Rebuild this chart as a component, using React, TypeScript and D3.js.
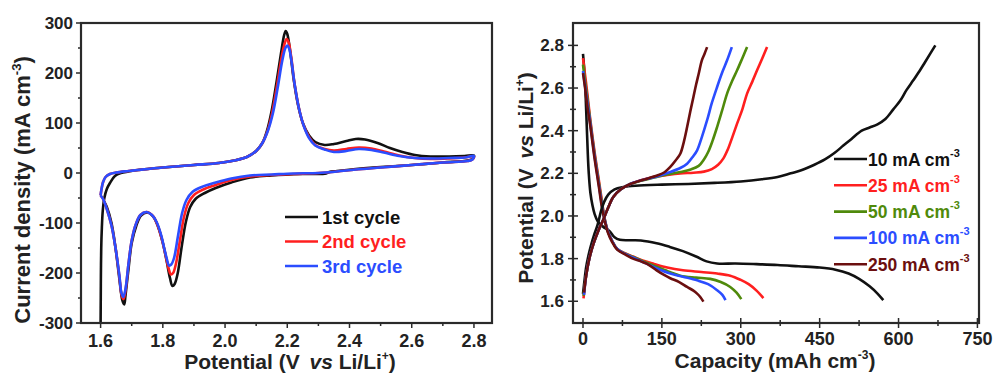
import React from 'react';
import * as d3 from 'd3';

type P = [number, number];

// ---------- Left panel: cyclic voltammetry ----------
const cvNames = ['1st cycle', '2nd cycle', '3rd cycle'];
const cvColors = ['#111111', '#ff1f1f', '#2b4dff'];

// [potential (V), current density (mA cm^-3)]
const cvCycle1: P[] = [
  [1.600, -300], [1.6005, -250], [1.601, -200], [1.602, -150], [1.604, -110], [1.607, -75], [1.612, -50],
  [1.620, -32], [1.630, -20], [1.646, -6], [1.665, 0], [1.69, 3], [1.72, 6], [1.80, 11], [1.90, 16],
  [1.98, 20], [2.03, 25], [2.07, 32], [2.10, 44], [2.12, 60], [2.135, 85], [2.15, 125], [2.165, 180],
  [2.18, 240], [2.19, 276], [2.195, 284], [2.20, 278], [2.21, 240], [2.22, 190], [2.235, 135], [2.25, 100],
  [2.27, 75], [2.29, 62], [2.32, 56], [2.35, 58], [2.39, 64], [2.42, 68], [2.45, 67], [2.49, 60], [2.53, 50],
  [2.57, 42], [2.61, 36], [2.66, 33], [2.72, 33], [2.77, 34], [2.80, 35],
  [2.795, 28], [2.78, 25], [2.70, 21], [2.60, 16], [2.50, 12], [2.42, 8], [2.36, 4], [2.335, 2], [2.325, -1],
  [2.25, -2], [2.15, -5], [2.08, -9], [2.02, -19], [1.97, -30], [1.935, -40], [1.905, -52], [1.888, -68],
  [1.874, -98], [1.86, -150], [1.848, -200], [1.838, -222], [1.831, -226], [1.823, -210], [1.812, -175],
  [1.80, -140], [1.785, -108], [1.77, -88], [1.75, -79], [1.73, -85], [1.715, -105], [1.70, -140], [1.69, -190],
  [1.68, -245], [1.676, -263], [1.67, -255], [1.66, -210], [1.648, -150], [1.635, -100], [1.62, -68], [1.61, -55]
];
const cvCycle2: P[] = [
  [1.600, -45], [1.603, -32], [1.608, -18], [1.616, -8], [1.63, -2], [1.65, 1], [1.69, 4], [1.72, 6],
  [1.80, 11], [1.90, 16], [1.98, 20], [2.03, 25], [2.07, 32], [2.10, 44], [2.12, 60], [2.137, 85],
  [2.152, 122], [2.167, 175], [2.182, 232], [2.192, 260], [2.198, 268], [2.204, 262], [2.213, 230],
  [2.223, 180], [2.238, 128], [2.252, 96], [2.27, 72], [2.29, 56], [2.32, 48], [2.35, 45], [2.39, 48],
  [2.43, 51], [2.47, 49], [2.51, 43], [2.56, 35], [2.61, 30], [2.66, 28], [2.72, 29], [2.77, 31], [2.80, 33],
  [2.795, 27], [2.78, 24], [2.70, 21], [2.60, 16], [2.50, 11], [2.42, 7], [2.36, 3], [2.30, 0], [2.22, -2],
  [2.15, -4], [2.08, -7], [2.02, -14], [1.97, -24], [1.93, -33], [1.90, -44], [1.882, -60], [1.868, -88],
  [1.855, -135], [1.842, -182], [1.833, -200], [1.826, -203], [1.819, -192], [1.81, -168], [1.798, -135],
  [1.783, -104], [1.768, -86], [1.748, -78], [1.728, -84], [1.713, -103], [1.70, -135], [1.69, -180],
  [1.68, -235], [1.674, -252], [1.668, -245], [1.66, -205], [1.648, -150], [1.635, -105], [1.62, -72],
  [1.608, -52], [1.600, -45]
];
const cvCycle3: P[] = [
  [1.600, -45], [1.603, -32], [1.608, -18], [1.616, -8], [1.63, -2], [1.65, 1], [1.69, 4], [1.72, 6],
  [1.80, 11], [1.90, 16], [1.98, 20], [2.03, 25], [2.07, 32], [2.10, 44], [2.12, 60], [2.138, 85],
  [2.154, 120], [2.169, 170], [2.184, 225], [2.194, 250], [2.2, 255], [2.206, 249], [2.214, 222],
  [2.224, 176], [2.239, 125], [2.253, 94], [2.27, 70], [2.29, 55], [2.32, 47], [2.35, 42], [2.39, 44],
  [2.43, 48], [2.47, 46], [2.51, 41], [2.56, 34], [2.61, 30], [2.66, 29], [2.72, 30], [2.77, 31], [2.80, 34],
  [2.795, 27], [2.78, 24], [2.70, 21], [2.60, 16], [2.50, 11], [2.42, 7], [2.36, 3], [2.30, 0], [2.22, -1],
  [2.15, -3], [2.08, -5], [2.02, -11], [1.97, -19], [1.925, -28], [1.895, -38], [1.876, -54], [1.862, -80],
  [1.849, -125], [1.836, -170], [1.827, -183], [1.82, -185], [1.813, -172], [1.805, -152], [1.795, -125],
  [1.78, -98], [1.765, -84], [1.748, -78], [1.728, -84], [1.713, -103], [1.70, -135], [1.69, -180],
  [1.68, -232], [1.673, -248], [1.667, -240], [1.66, -203], [1.648, -150], [1.635, -105], [1.62, -72],
  [1.608, -52], [1.600, -45]
];
const cvSeries = [cvCycle1, cvCycle2, cvCycle3];
const cvXTicks = [1.6, 1.8, 2.0, 2.2, 2.4, 2.6, 2.8];
const cvYTicks = [-300, -200, -100, 0, 100, 200, 300];

// ---------- Right panel: charge / discharge ----------
const gcdNames = ['10 mA cm', '25 mA cm', '50 mA cm', '100 mA cm', '250 mA cm'];
const gcdColors = ['#111111', '#ff1f1f', '#4f8a0b', '#2b4dff', '#6b0f0f'];

// [capacity (mAh cm^-3), potential (V)]
const dis10: P[] = [
  [0, 2.76], [2, 2.70], [4, 2.62], [6, 2.50], [7.5, 2.40], [9, 2.30], [11, 2.20], [14, 2.11], [18, 2.05],
  [22, 2.01], [28, 1.975], [38, 1.95], [50, 1.93], [60, 1.90], [70, 1.888], [90, 1.886], [110, 1.885],
  [140, 1.872], [165, 1.855], [190, 1.835], [215, 1.81], [235, 1.787], [255, 1.777], [290, 1.777],
  [330, 1.774], [370, 1.77], [410, 1.764], [450, 1.758], [480, 1.748], [505, 1.73], [525, 1.705],
  [545, 1.67], [560, 1.636], [571, 1.605]
];
const chg10: P[] = [
  [0, 1.635], [3, 1.70], [6, 1.76], [10, 1.81], [15, 1.86], [21, 1.91], [28, 1.96], [34, 2.02], [40, 2.065],
  [48, 2.10], [60, 2.125], [77, 2.136], [100, 2.142], [150, 2.147], [200, 2.15], [250, 2.155], [300, 2.162],
  [340, 2.172], [370, 2.183], [395, 2.20], [415, 2.214], [440, 2.24], [460, 2.265], [478, 2.295], [495, 2.33],
  [510, 2.36], [530, 2.40], [545, 2.415], [560, 2.43], [575, 2.455], [590, 2.50], [603, 2.54], [615, 2.59],
  [628, 2.636], [640, 2.68], [650, 2.72], [660, 2.76], [670, 2.80]
];
const dis25: P[] = [
  [0, 2.74], [4, 2.66], [8, 2.58], [14, 2.45], [22, 2.30], [30, 2.17], [36, 2.07], [41, 1.99], [47, 1.93],
  [55, 1.885], [65, 1.845], [80, 1.825], [95, 1.81], [115, 1.79], [135, 1.775], [160, 1.758], [190, 1.745],
  [225, 1.737], [255, 1.73], [280, 1.72], [300, 1.70], [315, 1.68], [330, 1.65], [343, 1.615]
];
const chg25: P[] = [
  [1, 1.613], [6, 1.72], [12, 1.80], [20, 1.87], [29, 1.93], [39, 1.985], [48, 2.04], [58, 2.09], [72, 2.125],
  [90, 2.15], [110, 2.168], [134, 2.183], [160, 2.192], [185, 2.199], [210, 2.203], [230, 2.208], [245, 2.22],
  [257, 2.24], [267, 2.27], [275, 2.31], [284, 2.37], [293, 2.433], [303, 2.50], [312, 2.574], [322, 2.63],
  [331, 2.683], [341, 2.74], [350, 2.792]
];
const dis50: P[] = [
  [0, 2.71], [4, 2.63], [8, 2.56], [14, 2.44], [22, 2.29], [30, 2.16], [36, 2.06], [41, 1.99], [47, 1.93],
  [55, 1.885], [65, 1.845], [80, 1.823], [95, 1.808], [115, 1.787], [140, 1.762], [165, 1.737], [185, 1.72],
  [215, 1.711], [242, 1.705], [262, 1.69], [280, 1.667], [292, 1.64], [301, 1.61]
];
const chg50: P[] = [
  [1, 1.625], [6, 1.72], [12, 1.80], [20, 1.87], [29, 1.93], [39, 1.985], [48, 2.04], [58, 2.09], [72, 2.125],
  [90, 2.15], [110, 2.165], [135, 2.18], [160, 2.195], [185, 2.206], [205, 2.218], [220, 2.235], [230, 2.265],
  [238, 2.30], [246, 2.35], [255, 2.417], [264, 2.49], [274, 2.574], [284, 2.635], [293, 2.683], [303, 2.74],
  [312, 2.792]
];
const dis100: P[] = [
  [0, 2.68], [4, 2.61], [8, 2.54], [14, 2.43], [22, 2.28], [30, 2.15], [36, 2.05], [41, 1.985], [47, 1.93],
  [55, 1.885], [65, 1.845], [80, 1.822], [95, 1.805], [115, 1.783], [140, 1.755], [166, 1.73], [190, 1.715],
  [217, 1.698], [238, 1.68], [255, 1.652], [265, 1.63], [271, 1.605]
];
const chg100: P[] = [
  [2, 1.63], [6, 1.72], [12, 1.80], [20, 1.87], [29, 1.93], [39, 1.985], [48, 2.04], [58, 2.09], [72, 2.125],
  [90, 2.15], [115, 2.17], [140, 2.185], [166, 2.206], [185, 2.225], [198, 2.245], [208, 2.275], [217, 2.308],
  [226, 2.37], [236, 2.449], [245, 2.53], [255, 2.605], [265, 2.675], [274, 2.73], [283, 2.792]
];
const dis250: P[] = [
  [0, 2.67], [4, 2.60], [8, 2.52], [14, 2.42], [22, 2.27], [30, 2.14], [36, 2.04], [41, 1.98], [47, 1.925],
  [55, 1.88], [65, 1.842], [80, 1.82], [95, 1.80], [110, 1.787], [122, 1.775], [140, 1.745], [155, 1.722],
  [166, 1.708], [183, 1.69], [198, 1.667], [210, 1.65], [217, 1.636], [223, 1.62], [229, 1.598]
];
const chg250: P[] = [
  [2, 1.64], [6, 1.72], [12, 1.80], [20, 1.87], [29, 1.93], [39, 1.985], [48, 2.04], [58, 2.09], [72, 2.125],
  [90, 2.15], [115, 2.17], [141, 2.19], [155, 2.205], [166, 2.23], [176, 2.26], [185, 2.292], [192, 2.35],
  [198, 2.417], [204, 2.49], [210, 2.558], [215, 2.615], [220, 2.667], [226, 2.73], [231, 2.76], [236, 2.792]
];
const gcdDischarge = [dis10, dis25, dis50, dis100, dis250];
const gcdCharge = [chg10, chg25, chg50, chg100, chg250];
const gcdXTicks = [0, 150, 300, 450, 600, 750];
const gcdYTicks = [1.6, 1.8, 2.0, 2.2, 2.4, 2.6, 2.8];

const FONT = '"Liberation Sans", Arial, Helvetica, sans-serif';
const AXIS = '#2a2a2a';

export default function App() {
  const L = { x0: 81, x1: 492, y0: 23, y1: 323 };
  const R = { x0: 573, x1: 979, y0: 23, y1: 323 };

  const cx = d3.scaleLinear().domain([1.537, 2.858]).range([L.x0, L.x1]);
  const cy = d3.scaleLinear().domain([-300, 300]).range([L.y1, L.y0]);
  const gx = d3.scaleLinear().domain([-19, 753]).range([R.x0, R.x1]);
  const gy = d3.scaleLinear().domain([1.498, 2.905]).range([R.y1, R.y0]);

  const cvLine = d3.line<P>().x(d => cx(d[0])).y(d => cy(d[1])).curve(d3.curveCatmullRom.alpha(0.5));
  const gLine = d3.line<P>().x(d => gx(d[0])).y(d => gy(d[1])).curve(d3.curveCatmullRom.alpha(0.5));

  const cvXMinor = d3.range(1.6, 2.86, 0.1);
  const cvYMinor = d3.range(-300, 301, 50);
  const gXMinor = d3.range(0, 751, 75);
  const gYMinor = d3.range(1.6, 2.85, 0.1);

  const tickStyle = { stroke: AXIS, strokeWidth: 1.5 };
  const xLabelStyle: React.CSSProperties = { fontFamily: FONT, fontWeight: 'bold', fontSize: 18, fill: '#222' };
  const yLabelStyle: React.CSSProperties = { fontFamily: FONT, fontWeight: 'bold', fontSize: 17, fill: '#222' };
  const titleStyle: React.CSSProperties = { fontFamily: FONT, fontWeight: 'bold', fontSize: 21, fill: '#222' };

  return (
    <svg width={1000} height={387} style={{ position: 'absolute', left: 0, top: 0, background: '#fff' }}>
      <rect x={0} y={0} width={1000} height={387} fill="#fff" />

      {/* ---------------- Left panel ---------------- */}
      <g>
        {cvSeries.map((s, i) => (
          <path key={i} d={cvLine(s) || ''} fill="none" stroke={cvColors[i]} strokeWidth={2.6} strokeLinejoin="round" />
        ))}
        <rect x={L.x0} y={L.y0} width={L.x1 - L.x0} height={L.y1 - L.y0} fill="none" stroke={AXIS} strokeWidth={2.2} />
        {cvXMinor.map((v, i) => (
          <line key={'cxm' + i} x1={cx(v)} x2={cx(v)} y1={L.y1} y2={L.y1 + (i % 2 === 0 ? 5 : 3)} style={tickStyle} />
        ))}
        {cvYMinor.map((v, i) => (
          <line key={'cym' + i} x1={L.x0} x2={L.x0 - (v % 100 === 0 ? 5 : 3)} y1={cy(v)} y2={cy(v)} style={tickStyle} />
        ))}
        {cvXTicks.map(v => (
          <text key={'cxl' + v} x={cx(v)} y={347} textAnchor="middle" style={xLabelStyle}>{v.toFixed(1)}</text>
        ))}
        {cvYTicks.map(v => (
          <text key={'cyl' + v} x={73} y={cy(v) + 6} textAnchor="end" style={yLabelStyle}>{v}</text>
        ))}
        <text x={290} y={369} textAnchor="middle" style={titleStyle}>
          Potential (V <tspan fontStyle="italic" dx={4}>vs</tspan> Li/Li<tspan dy={-9} fontSize={12}>+</tspan><tspan dy={9}>)</tspan>
        </text>
        <text transform="translate(30,190) rotate(-90)" textAnchor="middle" style={{ ...titleStyle, fontSize: 22 }}>
          Current density (mA cm<tspan dy={-9} fontSize={13}>-3</tspan><tspan dy={9}>)</tspan>
        </text>
        {cvNames.map((n, i) => (
          <g key={'cl' + i}>
            <line x1={285} x2={318} y1={217 + i * 24.5} y2={217 + i * 24.5} stroke={cvColors[i]} strokeWidth={2.6} />
            <text x={322} y={217 + i * 24.5 + 6.5} style={{ ...xLabelStyle, fontSize: 18.5, fill: cvColors[i] }}>{n}</text>
          </g>
        ))}
      </g>

      {/* ---------------- Right panel ---------------- */}
      <g>
        {gcdDischarge.map((s, i) => (
          <path key={'d' + i} d={gLine(s) || ''} fill="none" stroke={gcdColors[i]} strokeWidth={2.6} strokeLinejoin="round" />
        ))}
        {gcdCharge.map((s, i) => (
          <path key={'c' + i} d={gLine(s) || ''} fill="none" stroke={gcdColors[i]} strokeWidth={2.6} strokeLinejoin="round" />
        ))}
        <rect x={R.x0} y={R.y0} width={R.x1 - R.x0} height={R.y1 - R.y0} fill="none" stroke={AXIS} strokeWidth={2.2} />
        {gXMinor.map((v, i) => (
          <line key={'gxm' + i} x1={gx(v)} x2={gx(v)} y1={R.y1 - (i % 2 === 0 ? 5 : 3)} y2={R.y1 + (i % 2 === 0 ? 5 : 3)} style={tickStyle} />
        ))}
        {gYMinor.map((v, i) => (
          <line key={'gym' + i} x1={R.x0 - (i % 2 === 0 ? 5 : 3)} x2={R.x0 + (i % 2 === 0 ? 5 : 3)} y1={gy(v)} y2={gy(v)} style={tickStyle} />
        ))}
        {gcdXTicks.map(v => (
          <text key={'gxl' + v} x={gx(v)} y={345} textAnchor="middle" style={xLabelStyle}>{v}</text>
        ))}
        {gcdYTicks.map(v => (
          <text key={'gyl' + v} x={564} y={gy(v) + 6} textAnchor="end" style={yLabelStyle}>{v.toFixed(1)}</text>
        ))}
        <text x={775} y={368} textAnchor="middle" style={titleStyle}>
          Capacity (mAh cm<tspan dy={-9} fontSize={12}>-3</tspan><tspan dy={9}>)</tspan>
        </text>
        <text transform="translate(533,178) rotate(-90)" textAnchor="middle" style={titleStyle}>
          Potential (V <tspan fontStyle="italic" dx={4}>vs</tspan> Li/Li<tspan dy={-9} fontSize={12}>+</tspan><tspan dy={9}>)</tspan>
        </text>
        {gcdNames.map((n, i) => (
          <g key={'gl' + i}>
            <line x1={834} x2={867} y1={159 + i * 26.3} y2={159 + i * 26.3} stroke={gcdColors[i]} strokeWidth={2.6} />
            <text x={868} y={159 + i * 26.3 + 6.5} style={{ ...yLabelStyle, fontSize: 17.5, fill: gcdColors[i] }}>
              {n}<tspan dy={-9} fontSize={11}>-3</tspan>
            </text>
          </g>
        ))}
      </g>
    </svg>
  );
}
